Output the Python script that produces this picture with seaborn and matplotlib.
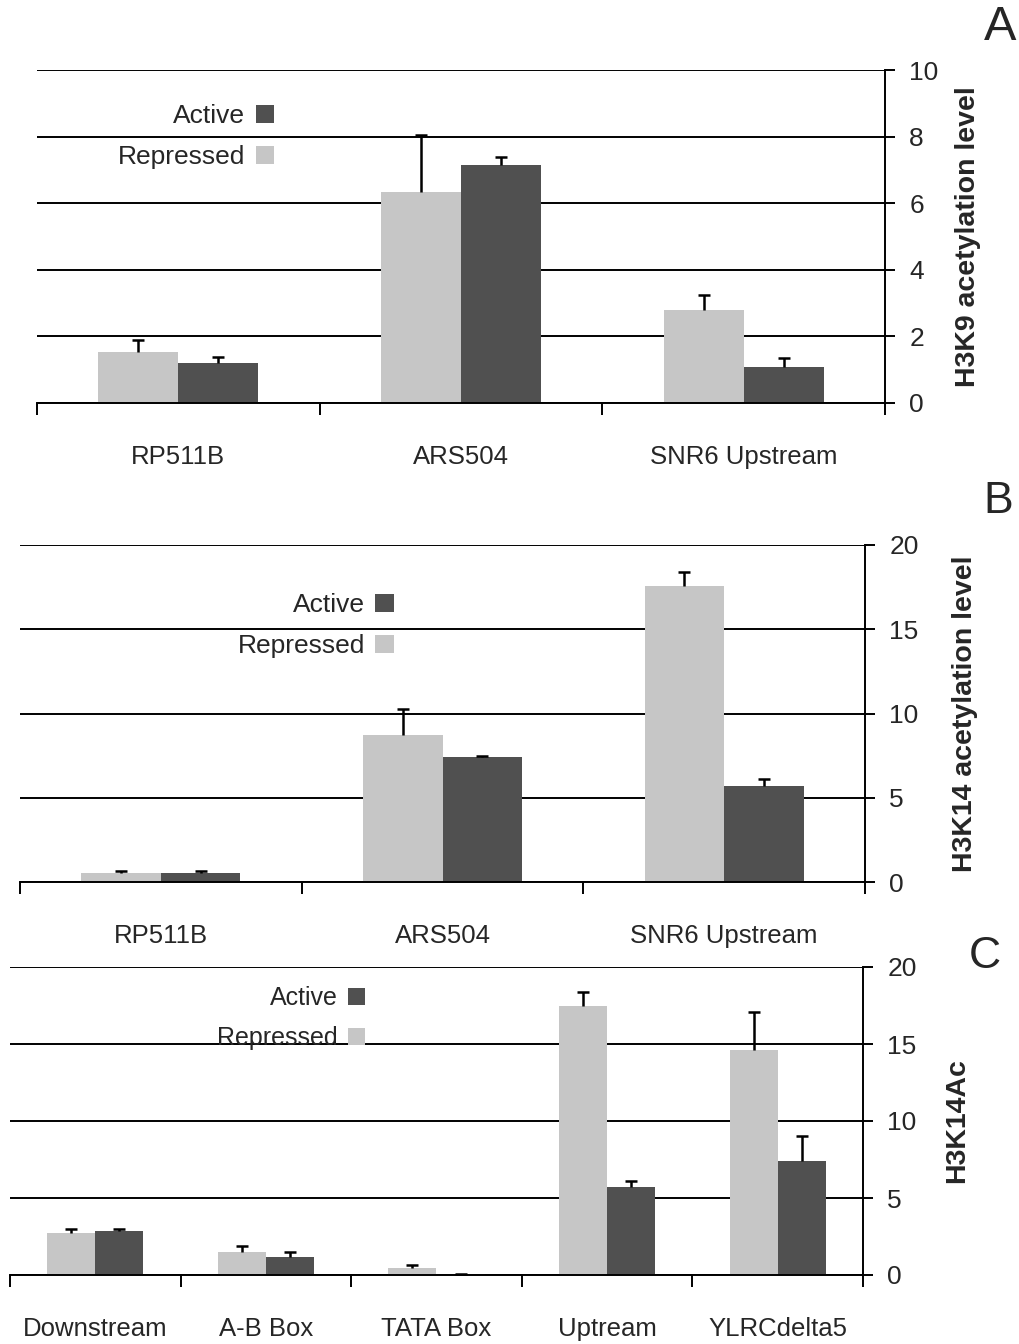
"""
Three stacked acetylation bar panels (A, B, C), laid out as a mirror image:
categories run right-to-left and the value axis sits on the right.
"""

import numpy as np
import pandas as pd
import matplotlib
matplotlib.use("Agg")
import matplotlib.pyplot as plt
from matplotlib.patches import Patch
import seaborn as sns

# ---- data ----
conditions = ["Active", "Repressed"]

a_regions = ["SNR6 Upstream", "ARS504", "RP511B"]
a_active = [1.08, 7.15, 1.20]
a_active_top = [1.35, 7.39, 1.38]
a_repressed = [2.79, 6.34, 1.53]
a_repressed_top = [3.24, 8.05, 1.89]

b_regions = ["SNR6 Upstream", "ARS504", "RP511B"]
b_active = [5.70, 7.42, 0.53]
b_active_top = [6.10, 7.50, 0.65]
b_repressed = [17.57, 8.72, 0.53]
b_repressed_top = [18.40, 10.27, 0.65]

c_regions = ["YLRCdelta5", "Uptream", "TATA Box", "A-B Box", "Downstream"]
c_active = [7.40, 5.70, 0.06, 1.17, 2.86]
c_active_top = [9.00, 6.10, 0.06, 1.49, 2.99]
c_repressed = [14.60, 17.50, 0.45, 1.49, 2.73]
c_repressed_top = [17.10, 18.40, 0.65, 1.88, 2.99]

palette = {"Active": "#505050", "Repressed": "#c6c6c6"}

sns.set_style("white")
plt.rcParams["font.family"] = ["Liberation Sans", "DejaVu Sans"]

LW = 1.4


def draw_panel(ax, regions, active, active_top, repressed, repressed_top,
               ymax, ystep, ylabel, label_x, legend_anchor, legend_size):
    df = pd.DataFrame({
        "region": regions * 2,
        "condition": ["Active"] * len(regions) + ["Repressed"] * len(regions),
        "value": active + repressed,
    })
    sns.barplot(data=df, x="region", y="value", hue="condition",
                order=regions, hue_order=conditions, palette=palette,
                errorbar=None, width=0.565, saturation=1, legend=False,
                linewidth=0, edgecolor="none", zorder=2, ax=ax)

    # upper-only error bars (hide the lower cap)
    tops = {"Active": active_top, "Repressed": repressed_top}
    vals = {"Active": active, "Repressed": repressed}
    for cont, cond in zip(ax.containers, conditions):
        xs = [b.get_x() + b.get_width() / 2 for b in cont]
        err = [t - v for t, v in zip(tops[cond], vals[cond])]
        eb = ax.errorbar(xs, vals[cond], yerr=[[0] * len(xs), err],
                         fmt="none", ecolor="black", elinewidth=1.8,
                         capsize=4.3, capthick=1.8, zorder=3)
        eb[1][0].set_visible(False)

    n = len(regions)
    ax.set_xlim(n - 0.5, -0.5)  # mirrored
    ax.set_ylim(0, ymax)
    ax.set_yticks(np.arange(0, ymax + 0.1, ystep))
    ax.set_xticks(np.arange(-0.5, n), minor=True)
    ax.set_xlabel("")

    for s in ["left", "top"]:
        ax.spines[s].set_visible(False)
    for s in ["right", "bottom"]:
        ax.spines[s].set_visible(True)
        ax.spines[s].set_linewidth(LW)
        ax.spines[s].set_color("black")

    ax.yaxis.tick_right()
    ax.yaxis.set_label_position("right")
    ax.yaxis.grid(True, color="black", linewidth=LW)
    ax.xaxis.grid(False)
    ax.set_axisbelow(True)

    ax.tick_params(axis="y", which="major", direction="out", length=7.5,
                   width=LW, color="black", labelsize=19, pad=10)
    ax.tick_params(axis="x", which="major", length=0, labelsize=18.5, pad=30)
    ax.tick_params(axis="x", which="minor", direction="out", length=8.5,
                   width=LW, color="black", bottom=True)

    ax.set_ylabel(ylabel, fontsize=20.5, fontweight="bold", rotation=90,
                  va="center", ha="center")
    ax.yaxis.set_label_coords(label_x, 0.5)

    handles = [Patch(facecolor=palette[c], edgecolor="none") for c in conditions]
    ax.legend(handles, conditions, loc="center right",
              bbox_to_anchor=legend_anchor, frameon=False, markerfirst=False,
              fontsize=legend_size, handlelength=0.7, handleheight=0.7,
              handletextpad=0.4, labelspacing=0.65, borderaxespad=0)


fig = plt.figure(figsize=(10.2, 13.44), dpi=100)

ax_a = fig.add_axes([37 / 1020, 1 - 403 / 1344, 848 / 1020, 333 / 1344])
draw_panel(ax_a, a_regions, a_active, a_active_top, a_repressed,
           a_repressed_top, 10, 2, "H3K9 acetylation level", 1.098,
           (0.292, 0.80), 19)

ax_b = fig.add_axes([20 / 1020, 1 - 882 / 1344, 845 / 1020, 337 / 1344])
draw_panel(ax_b, b_regions, b_active, b_active_top, b_repressed,
           b_repressed_top, 20, 5, "H3K14 acetylation level", 1.118,
           (0.455, 0.76), 19)

ax_c = fig.add_axes([10 / 1020, 1 - 1275 / 1344, 853 / 1020, 308 / 1344])
draw_panel(ax_c, c_regions, c_active, c_active_top, c_repressed,
           c_repressed_top, 20, 5, "H3K14Ac", 1.110,
           (0.428, 0.834), 18)

fig.text(1000 / 1020, 1 - 28 / 1344, "A", fontsize=35, ha="center", va="center")
fig.text(998 / 1020, 1 - 501 / 1344, "B", fontsize=32, ha="center", va="center")
fig.text(985 / 1020, 1 - 956 / 1344, "C", fontsize=32, ha="center", va="center")

fig.savefig("out.png", dpi=100)
